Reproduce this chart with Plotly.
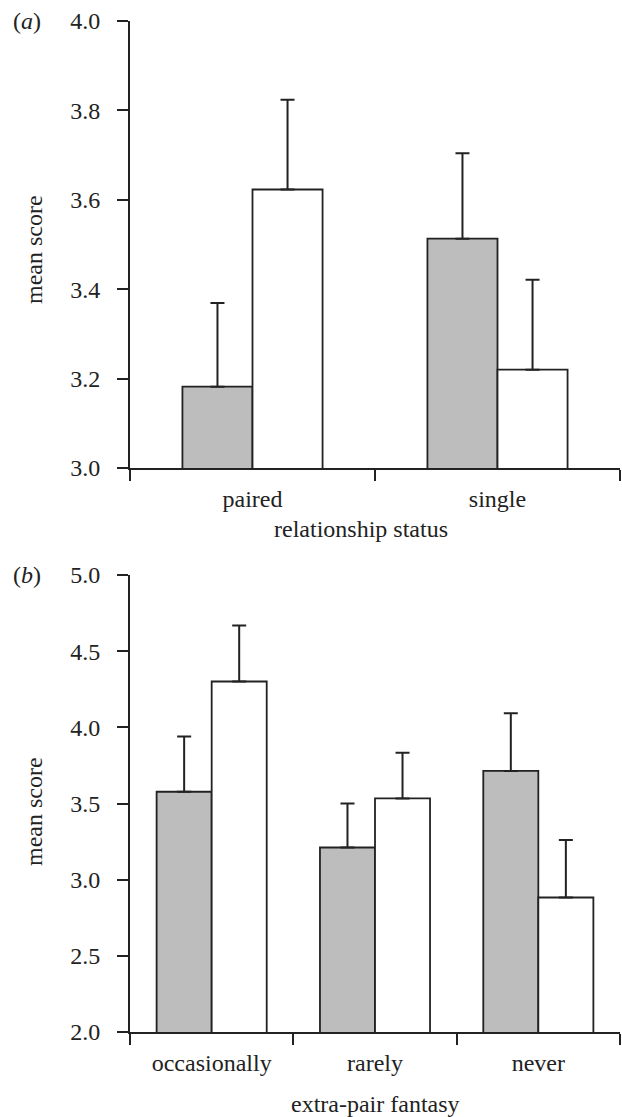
import plotly.graph_objects as go

# Panel (a)
cats_a = ["paired", "single"]
grey_a = [3.182, 3.513]
grey_a_err = [0.187, 0.191]
white_a = [3.623, 3.220]
white_a_err = [0.201, 0.201]

# Panel (b)
cats_b = ["occasionally", "rarely", "never"]
grey_b = [3.577, 3.211, 3.714]
grey_b_err = [0.363, 0.289, 0.378]
white_b = [4.301, 3.533, 2.883]
white_b_err = [0.368, 0.300, 0.377]

W, H = 622, 1117
INK = "#222222"
GREY = "#bdbdbd"
FONT = "Liberation Serif"
FS = 24

def px_x(p):
    return p / W

def px_y(p):
    return 1 - p / H

fig = go.Figure()

def add_pair(cats, g, ge, w, we, bw, xa, ya):
    fig.add_trace(go.Bar(
        x=cats, y=g, width=bw, offset=-bw, xaxis=xa, yaxis=ya,
        marker=dict(color=GREY, line=dict(color=INK, width=1.8)),
        error_y=dict(type="data", symmetric=False, array=ge, arrayminus=[0] * len(ge),
                     color=INK, thickness=2, width=7),
        showlegend=False))
    fig.add_trace(go.Bar(
        x=cats, y=w, width=bw, offset=0, xaxis=xa, yaxis=ya,
        marker=dict(color="white", line=dict(color=INK, width=1.8)),
        error_y=dict(type="data", symmetric=False, array=we, arrayminus=[0] * len(we),
                     color=INK, thickness=2, width=7),
        showlegend=False))

add_pair(cats_a, grey_a, grey_a_err, white_a, white_a_err, 0.286, "x", "y")
add_pair(cats_b, grey_b, grey_b_err, white_b, white_b_err, 0.337, "x2", "y2")

xdom = [px_x(130), px_x(620)]
axis_common = dict(showline=True, linecolor=INK, linewidth=2, ticks="outside",
                   ticklen=11, tickwidth=2, tickcolor=INK, showgrid=False,
                   zeroline=False, automargin=False,
                   tickfont=dict(family=FONT, size=FS, color=INK))

fig.update_layout(
    width=W, height=H, margin=dict(l=0, r=0, t=0, b=0), autosize=False,
    paper_bgcolor="white", plot_bgcolor="white", barmode="overlay",
    font=dict(family=FONT, size=FS, color=INK),
    xaxis=dict(domain=xdom, anchor="y", type="category", tickson="boundaries",
               range=[-0.5, 1.5], ticklabelstandoff=8, **axis_common),
    yaxis=dict(domain=[px_y(468), px_y(21)], anchor="x", range=[3.0, 4.0],
               tickvals=[3.0, 3.2, 3.4, 3.6, 3.8, 4.0], tickformat=".1f",
               ticklabelstandoff=12, **axis_common),
    xaxis2=dict(domain=xdom, anchor="y2", type="category", tickson="boundaries",
                range=[-0.5, 2.5], ticklabelstandoff=8, **axis_common),
    yaxis2=dict(domain=[px_y(1032), px_y(575)], anchor="x2", range=[2.0, 5.0],
                tickvals=[2.0, 2.5, 3.0, 3.5, 4.0, 4.5, 5.0], tickformat=".1f",
                ticklabelstandoff=12, **axis_common),
)

ann = dict(xref="paper", yref="paper", showarrow=False,
           font=dict(family=FONT, size=FS, color=INK))
fig.add_annotation(text="(<i>a</i>)", x=px_x(27), y=px_y(21), xanchor="center", yanchor="middle", **ann)
fig.add_annotation(text="(<i>b</i>)", x=px_x(27), y=px_y(575), xanchor="center", yanchor="middle", **ann)
fig.add_annotation(text="mean score", x=px_x(34), y=px_y(250), textangle=-90,
                   xanchor="center", yanchor="middle", **ann)
fig.add_annotation(text="mean score", x=px_x(34), y=px_y(812), textangle=-90,
                   xanchor="center", yanchor="middle", **ann)
fig.add_annotation(text="relationship status", x=px_x(361), y=px_y(529),
                   xanchor="center", yanchor="middle", **ann)
fig.add_annotation(text="extra-pair fantasy", x=px_x(375), y=px_y(1104),
                   xanchor="center", yanchor="middle", **ann)

fig.write_html("out.html", config={"responsive": False, "displayModeBar": False},
               post_script="document.body.style.margin='0';document.body.style.overflow='hidden';")
